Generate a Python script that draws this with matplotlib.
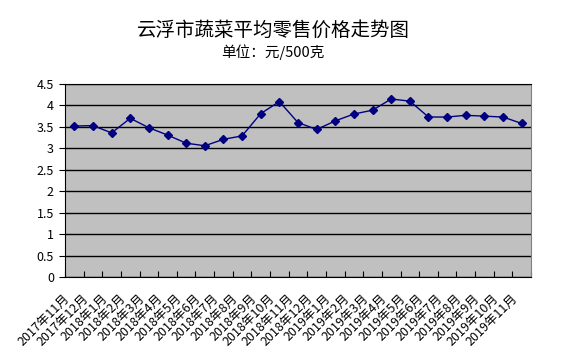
import numpy as np
import matplotlib
matplotlib.use("Agg")
from matplotlib import pyplot as plt
from matplotlib.transforms import ScaledTranslation

plt.rcParams['font.family'] = ['Noto Sans CJK SC', 'DejaVu Sans']

# 月份标签
months = ['2017年11月', '2017年12月'] + \
         ['2018年%d月' % m for m in range(1, 13)] + \
         ['2019年%d月' % m for m in range(1, 12)]

# 平均零售价格 (元/500克)
prices = [3.52, 3.53, 3.36, 3.70, 3.48, 3.31, 3.12, 3.06, 3.21, 3.29,
          3.81, 4.09, 3.60, 3.44, 3.64, 3.80, 3.89, 4.15, 4.10, 3.73,
          3.73, 3.77, 3.75, 3.73, 3.58]

yticks = [0, 0.5, 1, 1.5, 2, 2.5, 3, 3.5, 4, 4.5]
ylabels = ['0', '0.5', '1', '1.5', '2', '2.5', '3', '3.5', '4', '4.5']

fig = plt.figure(figsize=(5.63, 3.63), dpi=100)
ax = fig.add_axes([65/563, 1 - 277/363, (531 - 65)/563, (277 - 84)/363])
ax.set_facecolor('#C0C0C0')

x = np.arange(len(months))
ax.plot(x, prices, color='#000080', lw=1, marker='D', ms=4, zorder=3)

ax.set_xlim(-0.5, len(months) - 0.5)
ax.set_ylim(0, 4.5)
ax.set_yticks(yticks)
ax.set_yticklabels(ylabels, fontsize=9)
ax.yaxis.grid(True, color='black', lw=1)
ax.set_axisbelow(True)

# 分类轴刻度放在分类之间
ax.set_xticks(np.arange(len(months) + 1) - 0.5)
ax.set_xticklabels([])
ax.tick_params(axis='x', direction='in', length=4, color='black')
ax.tick_params(axis='y', direction='out', length=4, color='black', pad=4)

off = ScaledTranslation(-11/100, -15/100, fig.dpi_scale_trans)
for i, lab in enumerate(months):
    ax.text(i, 0, lab, rotation=45, ha='right', va='top', fontsize=9,
            rotation_mode='anchor',
            transform=ax.get_xaxis_transform() + off)

for s in ['left', 'bottom', 'top']:
    ax.spines[s].set_color('black')
ax.spines['right'].set_color('#808080')

fig.text(273/563, 1 - 30/363, '云浮市蔬菜平均零售价格走势图', ha='center', va='center', fontsize=14)
fig.text(273/563, 1 - 52/363, '单位：元/500克', ha='center', va='center', fontsize=10.5)

fig.savefig('out.png', dpi=100)
